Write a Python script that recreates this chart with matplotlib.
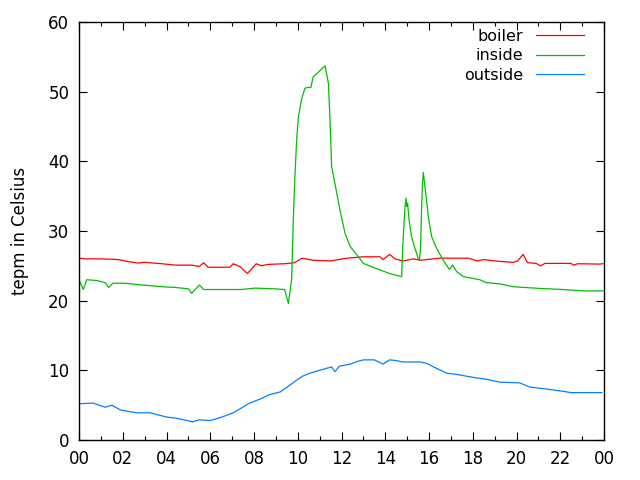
import matplotlib
matplotlib.use("Agg")
import matplotlib.pyplot as plt
from matplotlib.ticker import MultipleLocator

# hours of day
boiler_h = [0, 0.3, 1.0, 1.8, 2.25, 2.7, 3.0, 3.8, 4.4, 5.15, 5.5, 5.7, 5.9, 6.35, 6.9, 7.05,
            7.35, 7.7, 8.1, 8.35, 8.6, 9.4, 9.85, 10.2, 10.7, 11.5, 12.25, 13.0, 13.75, 13.9,
            14.2, 14.45, 14.8, 15.3, 15.6, 16.5, 17.8, 18.2, 18.5, 19.0, 19.85, 20.05, 20.3,
            20.5, 20.9, 21.1, 21.3, 22.0, 22.5, 22.6, 22.8, 23.8, 23.95]
boiler_v = [26.1, 26.0, 26.0, 25.9, 25.6, 25.4, 25.5, 25.3, 25.1, 25.1, 24.9, 25.45, 24.8, 24.8,
            24.8, 25.3, 24.9, 23.9, 25.3, 25.0, 25.2, 25.3, 25.45, 26.1, 25.8, 25.7, 26.1, 26.3,
            26.3, 25.9, 26.65, 26.0, 25.7, 26.0, 25.8, 26.1, 26.1, 25.7, 25.9, 25.7, 25.5, 25.7,
            26.65, 25.45, 25.35, 25.0, 25.35, 25.35, 25.35, 25.1, 25.3, 25.25, 25.3]

inside_h = [0, 0.2, 0.35, 0.8, 1.2, 1.35, 1.55, 2.1, 2.9, 3.8, 4.4, 5.0, 5.15, 5.5, 5.7, 6.5,
            7.4, 8.05, 8.95, 9.4, 9.57, 9.72, 9.8, 9.87, 9.95, 10.03, 10.18, 10.33, 10.47, 10.6,
            10.7, 11.25, 11.4, 11.47, 11.55, 11.7, 11.93, 12.16, 12.4, 12.6, 13.0, 13.6, 14.2,
            14.75, 14.8, 14.85, 14.9, 14.95, 14.98, 15.02, 15.09, 15.2, 15.36, 15.5, 15.56,
            15.61, 15.66, 15.7, 15.74, 15.78, 15.85, 15.97, 16.12, 16.35, 16.65, 16.93, 17.08,
            17.27, 17.57, 18.33, 18.6, 19.25, 19.85, 21.1, 22.1, 23.05, 23.95]
inside_v = [23.0, 21.6, 23.0, 22.9, 22.6, 21.9, 22.5, 22.5, 22.25, 22.0, 21.9, 21.7, 21.05,
            22.25, 21.6, 21.6, 21.6, 21.8, 21.7, 21.6, 19.6, 23.0, 32.0, 37.8, 43.1, 46.4,
            49.0, 50.5, 50.6, 50.6, 52.1, 53.7, 51.2, 46.4, 39.2, 36.8, 33.0, 29.7, 27.75,
            27.0, 25.35, 24.6, 23.9, 23.45, 27.75, 30.6, 33.25, 34.7, 33.5, 34.0, 31.6, 29.2,
            27.5, 26.1, 25.8, 27.3, 33.0, 36.8, 38.4, 37.3, 35.4, 32.05, 29.2, 27.5, 25.8,
            24.5, 25.1, 24.15, 23.45, 23.0, 22.6, 22.4, 22.0, 21.75, 21.6, 21.4, 21.4]

outside_h = [0, 0.64, 1.2, 1.5, 1.9, 2.65, 3.25, 4.0, 4.5, 5.2, 5.5, 6.0, 6.45, 7.05, 7.8,
             8.3, 8.7, 9.2, 9.65, 9.95, 10.1, 10.25, 10.56, 11.0, 11.55, 11.7, 11.9, 12.4,
             12.75, 13.0, 13.5, 13.9, 14.2, 14.5, 14.8, 15.6, 15.9, 16.2, 16.8, 17.3, 18.0,
             18.65, 19.25, 20.15, 20.6, 21.4, 22.1, 22.5, 23.9]
outside_v = [5.2, 5.3, 4.7, 5.0, 4.3, 3.9, 3.9, 3.3, 3.1, 2.6, 2.9, 2.8, 3.2, 3.9, 5.3, 5.9,
             6.5, 6.9, 7.9, 8.6, 8.9, 9.2, 9.6, 10.0, 10.5, 9.8, 10.6, 10.9, 11.3, 11.5, 11.5,
             10.9, 11.5, 11.4, 11.2, 11.2, 11.0, 10.5, 9.6, 9.4, 9.0, 8.7, 8.3, 8.2, 7.6, 7.3,
             7.0, 6.8, 6.8]

xtick_labels = ["00", "02", "04", "06", "08", "10", "12", "14", "16", "18", "20", "22", "00"]
ytick_values = [0, 10, 20, 30, 40, 50, 60]

plt.rcParams['font.family'] = ['DejaVu Sans']
fig = plt.figure(figsize=(6.4, 4.8), dpi=100)
ax = fig.add_axes([79/640, 1-440/480, (604-79)/640, (440-22)/480])

lw = 0.9
ax.plot(boiler_h, boiler_v, color="#ff0000", lw=lw, label="boiler")
ax.plot(inside_h, inside_v, color="#00c000", lw=lw, label="inside")
ax.plot(outside_h, outside_v, color="#0080ff", lw=lw, label="outside")

ax.set_xlim(0, 24)
ax.set_ylim(0, 60)
ax.set_xticks(range(0, 25, 2))
ax.set_xticklabels(xtick_labels)
ax.xaxis.set_minor_locator(MultipleLocator(1))
ax.set_yticks(ytick_values)
ax.tick_params(axis='both', which='both', direction='in', top=True, right=True,
               labelsize=12, width=0.8, colors='black')
ax.tick_params(axis='both', which='major', length=6, pad=7)
ax.tick_params(axis='both', which='minor', length=3)
for s in ax.spines.values():
    s.set_linewidth(1.0)
ax.set_ylabel("tepm in Celsius", fontsize=12, labelpad=14)

leg = ax.legend(loc='upper right', frameon=False, markerfirst=False, fontsize=11.5,
                handlelength=3.0, handletextpad=0.85, labelspacing=0.28,
                bbox_to_anchor=(0.99, 1.018))
for t in leg.get_texts():
    t.set_ha('right')

fig.savefig("out.png", dpi=100)
